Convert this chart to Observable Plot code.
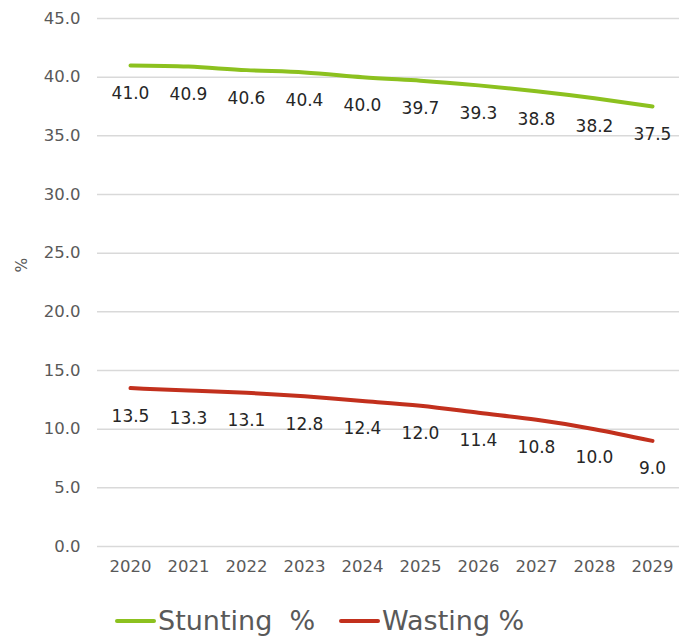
<!DOCTYPE html>
<html>
<head>
<meta charset="utf-8">
<script src="https://cdn.jsdelivr.net/npm/d3@7"></script>
<script src="https://cdn.jsdelivr.net/npm/@observablehq/plot@0.6"></script>
<style>
  body { margin: 0; background: #fff; font-family: "DejaVu Sans", sans-serif; }
  #legend { display: flex; justify-content: flex-start; align-items: center; gap: 0; padding-left: 115px; margin-top: 15px; color: #595959; font-size: 27px; white-space: pre; }
  .item { display: flex; align-items: center; }
  .sw { width: 41px; height: 4px; border-radius: 2px; margin-right: 2px; }
</style>
</head>
<body>
<div id="chart"></div>
<div id="legend"></div>
<script>
const years = ["2020","2021","2022","2023","2024","2025","2026","2027","2028","2029"];
const stunting = [41.0, 40.9, 40.6, 40.4, 40.0, 39.7, 39.3, 38.8, 38.2, 37.5];
const wasting = [13.5, 13.3, 13.1, 12.8, 12.4, 12.0, 11.4, 10.8, 10.0, 9.0];
const yTicks = [0, 5, 10, 15, 20, 25, 30, 35, 40, 45];
const seriesNames = ["Stunting  %", "Wasting %"];
const seriesColors = ["#8cc11f", "#c2301d"];

const data = [
  ...years.map((y, i) => ({year: y, value: stunting[i], series: seriesNames[0]})),
  ...years.map((y, i) => ({year: y, value: wasting[i], series: seriesNames[1]}))
];

const chart = Plot.plot({
  width: 679,
  height: 590,
  marginLeft: 97,
  marginRight: 0,
  marginTop: 18,
  marginBottom: 44,
  style: {fontFamily: "DejaVu Sans, sans-serif", fontSize: "16px", color: "#595959", background: "#fff"},
  x: {type: "point", domain: years, range: [126, 655], padding: 0, label: null},
  y: {domain: [0, 45], label: null},
  color: {domain: seriesNames, range: seriesColors},
  marks: [
    Plot.ruleY(yTicks, {stroke: "#d9d9d9", strokeWidth: 1.5}),
    Plot.axisY({ticks: yTicks, tickFormat: d => d.toFixed(1), tickSize: 0, tickPadding: 17, fontSize: 16.5, fill: "#595959", label: null}),
    Plot.axisX({tickSize: 0, tickPadding: 14, fontSize: 16.5, fill: "#595959", label: null}),
    Plot.text(["%"], {frameAnchor: "left", dx: -75, dy: -10, rotate: -90, fontSize: 15.5, fill: "#595959"}),
    Plot.line(data, {x: "year", y: "value", z: "series", stroke: "series", strokeWidth: 4, curve: "natural", strokeLinecap: "round"}),
    Plot.text(data, {x: "year", y: "value", text: d => d.value.toFixed(1), dy: 28, fontSize: 17, fill: "#262626"})
  ]
});
document.getElementById("chart").appendChild(chart);

const legend = document.getElementById("legend");
seriesNames.forEach((name, i) => {
  const item = document.createElement("div");
  item.className = "item";
  if (i > 0) item.style.marginLeft = "24px";
  const sw = document.createElement("span");
  sw.className = "sw";
  sw.style.background = seriesColors[i];
  const t = document.createElement("span");
  t.textContent = name;
  item.appendChild(sw);
  item.appendChild(t);
  legend.appendChild(item);
});
</script>
</body>
</html>
